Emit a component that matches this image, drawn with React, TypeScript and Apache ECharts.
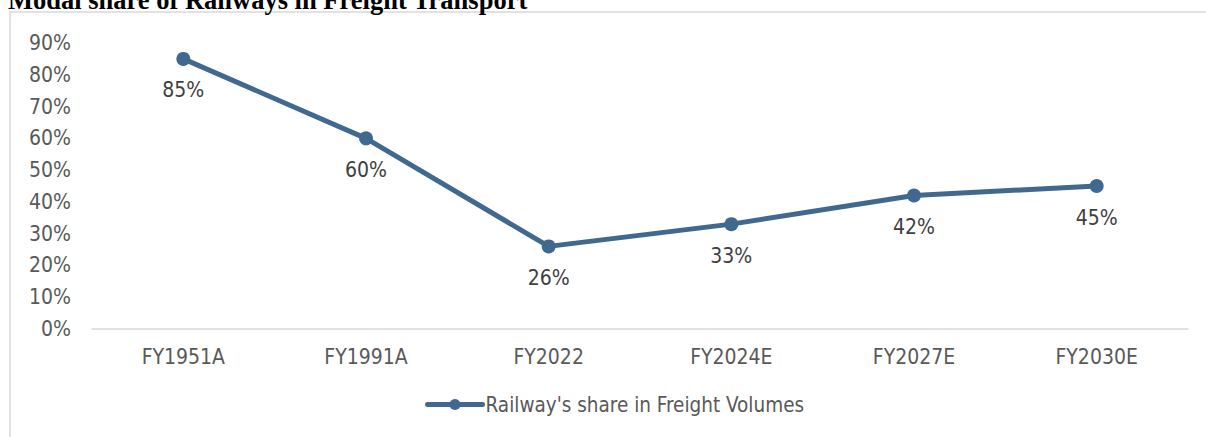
import React, { useEffect, useRef } from "react";
import * as echarts from "echarts";

const categories = ["FY1951A", "FY1991A", "FY2022", "FY2024E", "FY2027E", "FY2030E"];
const shareValues = [85, 60, 26, 33, 42, 45];
const seriesName = "Railway's share in Freight Volumes";
const titleText = "Modal share of Railways in Freight Transport";

export default function App() {
  const ref = useRef<HTMLDivElement>(null);
  useEffect(() => {
    if (!ref.current) return;
    const chart = echarts.init(ref.current, null, { renderer: "svg" });
    const font = "'DejaVu Sans Condensed', 'DejaVu Sans', Verdana, sans-serif";
    const color = "#41698F";
    chart.setOption({
      animation: false,
      backgroundColor: "#ffffff",
      graphic: [
        {
          type: "rect",
          shape: { x: 10, y: 12, width: 1400, height: 600 },
          style: { fill: "none", stroke: "#d9d9d9", lineWidth: 1.5 },
          z: -1,
        },
        {
          type: "text",
          x: 8,
          y: 0,
          style: {
            text: titleText,
            font: "bold 26.5px 'Liberation Serif', 'Times New Roman', serif",
            fill: "#000000",
            verticalAlign: "middle",
            align: "left",
          },
        },
      ],
      grid: { left: 92, right: 18, top: 43, bottom: 108, containLabel: false },
      legend: {
        data: [seriesName],
        bottom: 17,
        left: 420,
        itemWidth: 55,
        itemHeight: 14,
        itemGap: 10,
        lineStyle: { width: 5 },
        textStyle: { fontFamily: font, fontSize: 20.5, color: "#595959", padding: [0, 0, 0, -2] },
      },
      xAxis: {
        type: "category",
        data: categories,
        boundaryGap: true,
        axisLine: { show: true, lineStyle: { color: "#d9d9d9", width: 1.5 } },
        axisTick: { show: false },
        axisLabel: { fontFamily: font, fontSize: 21, color: "#595959", margin: 17 },
      },
      yAxis: {
        type: "value",
        min: 0,
        max: 90,
        interval: 10,
        axisLine: { show: false },
        axisTick: { show: false },
        splitLine: { show: false },
        axisLabel: {
          fontFamily: font,
          fontSize: 21,
          color: "#595959",
          margin: 21,
          formatter: (v: number) => v + "%",
        },
      },
      series: [
        {
          name: seriesName,
          type: "line",
          data: shareValues,
          symbol: "circle",
          symbolSize: 14,
          itemStyle: { color },
          lineStyle: { color, width: 5, cap: "round", join: "round" },
          label: {
            show: true,
            position: "bottom",
            distance: 14,
            fontFamily: font,
            fontSize: 21,
            color: "#404040",
            formatter: (p: any) => p.value + "%",
          },
        },
      ],
    });
    return () => chart.dispose();
  }, []);
  return (
    <div
      ref={ref}
      style={{ position: "absolute", left: 0, top: 0, width: 1206, height: 437 }}
    />
  );
}
